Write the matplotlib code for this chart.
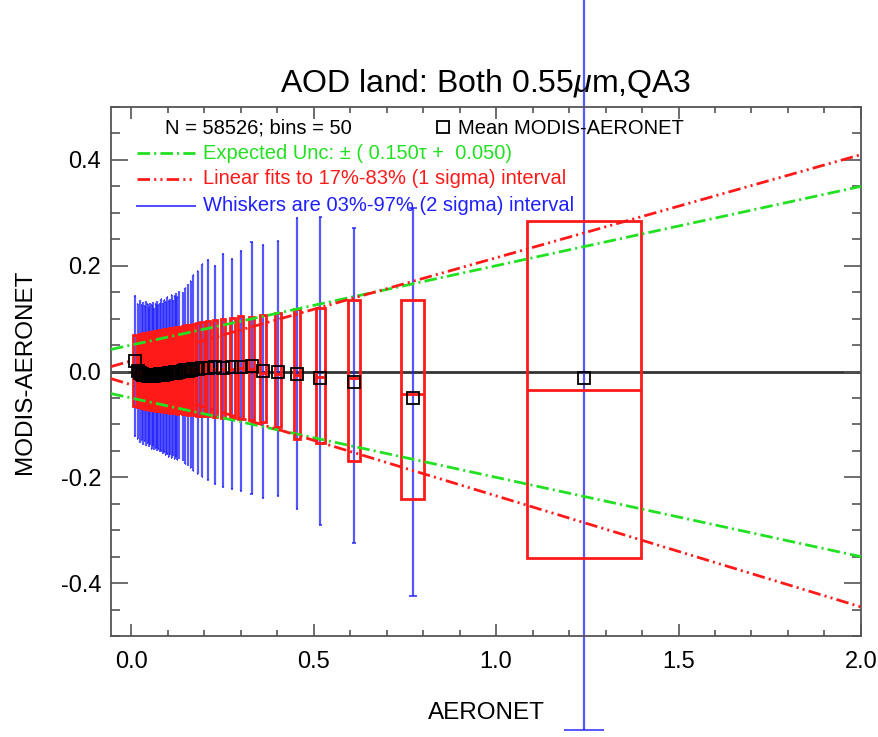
import numpy as np
import matplotlib
matplotlib.use('Agg')
import matplotlib.pyplot as plt

plt.rcParams['font.family'] = ['Liberation Sans', 'DejaVu Sans']
plt.rcParams['axes.unicode_minus'] = False
plt.rcParams['mathtext.fontset'] = 'custom'
plt.rcParams['mathtext.rm'] = 'Liberation Sans'
plt.rcParams['mathtext.it'] = 'Liberation Sans:italic'
plt.rcParams['lines.scale_dashes'] = False

# bin statistics (AERONET bin centre, box width, percentiles of MODIS-AERONET)
x_mid = [0.011, 0.018, 0.024, 0.029, 0.033, 0.037, 0.041, 0.045, 0.049, 0.052,
         0.056, 0.060, 0.063, 0.067, 0.071, 0.075, 0.079, 0.083, 0.087, 0.091,
         0.095, 0.099, 0.103, 0.107, 0.111, 0.115, 0.119, 0.123, 0.127, 0.131,
         0.142, 0.149, 0.156, 0.163, 0.170, 0.183, 0.195, 0.211, 0.230, 0.252,
         0.277, 0.300, 0.330, 0.362, 0.403, 0.455, 0.518, 0.610, 0.772, 1.240]
box_w = [0.010, 0.006, 0.005, 0.005, 0.005, 0.005, 0.005, 0.005, 0.005, 0.005,
         0.005, 0.005, 0.005, 0.005, 0.005, 0.005, 0.005, 0.005, 0.005, 0.005,
         0.005, 0.005, 0.005, 0.005, 0.005, 0.005, 0.005, 0.005, 0.005, 0.005,
         0.006, 0.006, 0.007, 0.007, 0.008, 0.009, 0.010, 0.011, 0.012, 0.013,
         0.014, 0.015, 0.016, 0.017, 0.018, 0.018, 0.024, 0.032, 0.063, 0.312]
q83 = [0.069, 0.066, 0.071, 0.070, 0.072, 0.071, 0.073, 0.072, 0.074, 0.073,
       0.075, 0.074, 0.076, 0.075, 0.077, 0.078, 0.077, 0.079, 0.078, 0.080,
       0.079, 0.081, 0.080, 0.082, 0.081, 0.083, 0.082, 0.084, 0.083, 0.085,
       0.086, 0.087, 0.088, 0.088, 0.089, 0.091, 0.093, 0.095, 0.097, 0.099,
       0.102, 0.105, 0.104, 0.107, 0.110, 0.118, 0.120, 0.136, 0.135, 0.284]
q17 = [-0.066, -0.068, -0.067, -0.069, -0.068, -0.070, -0.069, -0.071, -0.070, -0.072,
       -0.071, -0.073, -0.072, -0.074, -0.073, -0.074, -0.075, -0.074, -0.076, -0.075,
       -0.077, -0.076, -0.077, -0.078, -0.077, -0.079, -0.078, -0.079, -0.080, -0.079,
       -0.080, -0.081, -0.082, -0.081, -0.083, -0.084, -0.085, -0.084, -0.086, -0.087,
       -0.088, -0.090, -0.092, -0.095, -0.105, -0.127, -0.136, -0.170, -0.241, -0.353]
median = [0.012, -0.002, -0.004, -0.005, -0.006, -0.005, -0.007, -0.006, -0.006, -0.007,
          -0.006, -0.005, -0.006, -0.005, -0.004, -0.005, -0.004, -0.003, -0.004, -0.003,
          -0.002, -0.003, -0.002, -0.001, -0.002, -0.001, 0.000, -0.001, 0.000, 0.001,
          0.000, 0.001, 0.002, 0.001, 0.003, 0.002, 0.004, 0.003, 0.004, 0.005,
          0.004, 0.006, 0.005, -0.002, -0.004, -0.006, -0.010, -0.012, -0.043, -0.034]
mean = [0.020, 0.001, -0.003, -0.004, -0.006, -0.007, -0.006, -0.008, -0.007, -0.008,
        -0.007, -0.007, -0.008, -0.006, -0.006, -0.007, -0.005, -0.005, -0.006, -0.004,
        -0.004, -0.005, -0.003, -0.003, -0.002, -0.003, -0.001, -0.002, -0.001, 0.000,
        0.001, 0.002, 0.001, 0.003, 0.004, 0.005, 0.006, 0.007, 0.008, 0.007,
        0.008, 0.009, 0.011, 0.001, 0.000, -0.005, -0.013, -0.020, -0.050, -0.012]
q97 = [0.143, 0.128, 0.135, 0.126, 0.131, 0.124, 0.133, 0.127, 0.122, 0.130,
       0.125, 0.132, 0.121, 0.128, 0.134, 0.126, 0.130, 0.137, 0.129, 0.135,
       0.131, 0.140, 0.133, 0.138, 0.145, 0.136, 0.142, 0.148, 0.140, 0.152,
       0.150, 0.158, 0.165, 0.172, 0.182, 0.190, 0.203, 0.210, 0.200, 0.222,
       0.212, 0.228, 0.245, 0.240, 0.247, 0.290, 0.292, 0.271, 0.310, 0.760]
q03 = [-0.122, -0.128, -0.135, -0.130, -0.138, -0.132, -0.140, -0.136, -0.143, -0.139,
       -0.146, -0.141, -0.149, -0.144, -0.151, -0.147, -0.153, -0.150, -0.156, -0.152,
       -0.158, -0.155, -0.161, -0.157, -0.163, -0.160, -0.166, -0.162, -0.168, -0.165,
       -0.170, -0.174, -0.178, -0.182, -0.188, -0.193, -0.200, -0.206, -0.212, -0.218,
       -0.222, -0.226, -0.232, -0.240, -0.236, -0.260, -0.290, -0.325, -0.425, -0.677]

# fit / expected-uncertainty line parameters (intercept, slope)
ee_par = (0.050, 0.150)
fit_hi = (0.020, 0.195)
fit_lo = (-0.025, -0.210)

n_points = 58526
n_bins = 50

RED = '#ff1a1a'
GREEN = '#22e022'
BLUE = '#1f1fff'

def main():
    x = np.array(x_mid)
    w = np.array(box_w)
    lo = np.array(q17)
    hi = np.array(q83)

    fig = plt.figure(figsize=(8.79, 7.37), dpi=100)
    ax = fig.add_axes([0.1263, 0.137, 0.8532, 0.7178])

    ax.axhline(0.0, color='#333333', lw=2, zorder=1)

    # whiskers
    wl = ax.vlines(x, q03, q97, color=BLUE, lw=1.6, alpha=0.75, zorder=2)
    wl.set_clip_on(False)
    cap = 0.35 * w
    c1 = ax.hlines(q97, x - cap / 2, x + cap / 2, color=BLUE, lw=1.4, alpha=0.75, zorder=2)
    c2 = ax.hlines(q03, x - cap / 2, x + cap / 2, color=BLUE, lw=1.4, alpha=0.75, zorder=2)
    c1.set_clip_on(False)
    c2.set_clip_on(False)

    # 17-83% boxes
    ax.bar(x, hi - lo, width=w, bottom=lo, fill=False, edgecolor=RED, lw=2, zorder=3)
    ax.hlines(median, x - w / 2, x + w / 2, color=RED, lw=2, zorder=3)

    # lines
    xx = np.array([-0.055, 2.0])
    ax.plot(xx, ee_par[0] + ee_par[1] * xx, color=GREEN, lw=2,
            ls=(0, (9, 3, 1.5, 3)), zorder=4)
    ax.plot(xx, -ee_par[0] - ee_par[1] * xx, color=GREEN, lw=2,
            ls=(0, (9, 3, 1.5, 3)), zorder=4)
    ax.plot(xx, fit_hi[0] + fit_hi[1] * xx, color=RED, lw=2,
            ls=(0, (9, 3, 1.5, 3, 1.5, 3)), zorder=4)
    ax.plot(xx, fit_lo[0] + fit_lo[1] * xx, color=RED, lw=2,
            ls=(0, (9, 3, 1.5, 3, 1.5, 3)), zorder=4)

    ax.plot(x, mean, 's', mfc='none', mec='black', ms=9, mew=1.3, zorder=5)

    # legend made by hand
    fs = 14.5
    ax.text(0.072, 0.960, 'N = {}; bins = {}'.format(n_points, n_bins), fontsize=fs,
            transform=ax.transAxes, va='center')
    ax.plot([0.443], [0.962], 's', mfc='none', mec='black', ms=9, mew=1.3,
            transform=ax.transAxes)
    ax.text(0.462, 0.960, 'Mean MODIS-AERONET', fontsize=fs,
            transform=ax.transAxes, va='center')
    ax.plot([0.035, 0.112], [0.913, 0.913], color=GREEN, lw=2, ls=(0, (9, 3, 1.5, 3)),
            transform=ax.transAxes)
    ax.text(0.123, 0.913, 'Expected Unc: \u00b1 ( {:.3f}\u03c4 +  {:.3f})'.format(ee_par[1], ee_par[0]),
            fontsize=fs, color=GREEN, transform=ax.transAxes, va='center')
    ax.plot([0.035, 0.112], [0.864, 0.864], color=RED, lw=2,
            ls=(0, (9, 3, 1.5, 3, 1.5, 3)), transform=ax.transAxes)
    ax.text(0.123, 0.864, 'Linear fits to 17%-83% (1 sigma) interval', fontsize=fs,
            color=RED, transform=ax.transAxes, va='center')
    ax.plot([0.035, 0.112], [0.813, 0.813], color=BLUE, lw=1.4, alpha=0.8,
            transform=ax.transAxes)
    ax.text(0.123, 0.813, 'Whiskers are 03%-97% (2 sigma) interval', fontsize=fs,
            color=BLUE, transform=ax.transAxes, va='center')

    ax.set_xlim(-0.055, 2.0)
    ax.set_ylim(-0.5, 0.5)
    ax.set_xticks(np.arange(0, 2.01, 0.5))
    ax.set_xticks(np.arange(0, 2.01, 0.1), minor=True)
    ax.set_yticks(np.arange(-0.4, 0.41, 0.2))
    ax.set_yticks(np.arange(-0.5, 0.51, 0.05), minor=True)
    ax.set_xticklabels(['0.0', '0.5', '1.0', '1.5', '2.0'])
    ax.set_yticklabels(['-0.4', '-0.2', '0.0', '0.2', '0.4'])

    ax.tick_params(axis='x', which='major', direction='in', length=8.5, width=1.2,
                   top=True, pad=11, labelsize=17, color='#555555')
    ax.tick_params(axis='x', which='minor', direction='in', length=4.3, width=1.2,
                   top=True, color='#555555')
    ax.tick_params(axis='y', which='major', direction='in', length=12, width=1.2,
                   right=True, pad=7, labelsize=17, color='#555555')
    ax.tick_params(axis='y', which='minor', direction='in', length=6.5, width=1.2,
                   right=True, color='#555555')
    for s in ax.spines.values():
        s.set_color('#555555')
        s.set_linewidth(1.3)

    ax.set_xlabel('AERONET', fontsize=17.5)
    ax.set_ylabel('MODIS-AERONET', fontsize=17.5)
    ax.xaxis.set_label_coords(0.5, -0.125)
    ax.yaxis.set_label_coords(-0.10, 0.5)
    ax.set_title('AOD land: Both 0.55$\\mu$m,QA3', fontsize=23, pad=11)

    fig.savefig('out.png', dpi=100)

if __name__ == '__main__':
    main()
